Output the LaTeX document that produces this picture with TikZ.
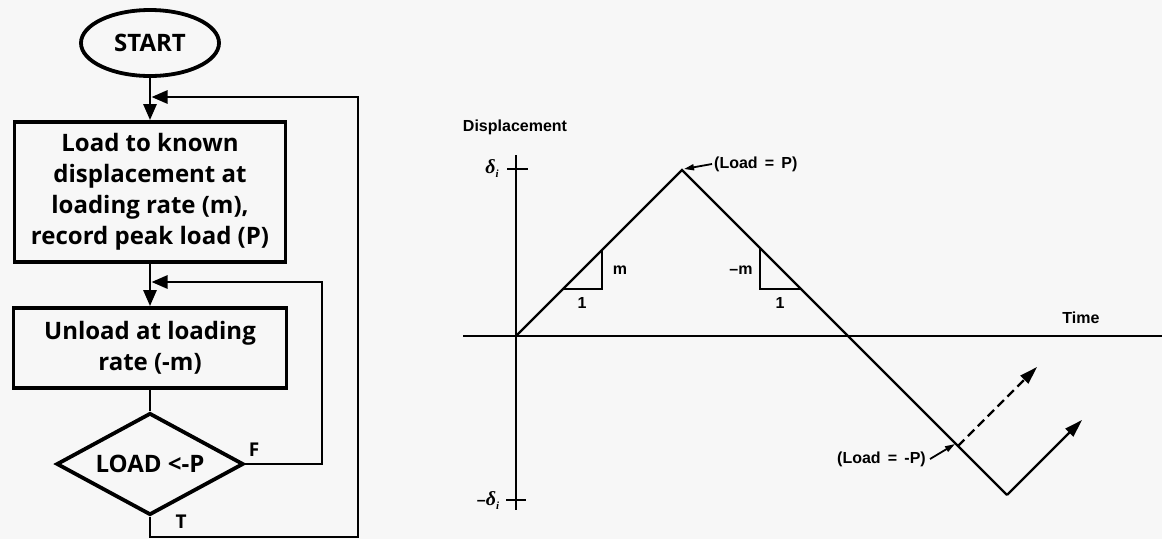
\documentclass[tikz,border=0pt]{standalone}
\usepackage{fontspec}
\setmainfont{Open Sans}
\newfontfamily\gfont{Liberation Sans}
\newfontfamily\dfont{Liberation Serif}
\newcommand\widespaces{\spaceskip=0.45em\relax}
\usetikzlibrary{arrows.meta,shapes.geometric}
\definecolor{bg}{RGB}{247,247,247}
\begin{document}
\begin{tikzpicture}[x=1pt,y=-1pt,
  flowfont/.style={font=\fontsize{24}{31}\selectfont\bfseries},
  flowbox/.style={draw,line width=3.8pt,inner sep=0pt,align=center,flowfont},
  conn/.style={line width=2.7pt},
  tip/.style={-{Triangle[length=16pt,width=13pt]}},
  curve/.style={line width=2.2pt},
  axis/.style={line width=2.8pt},
  gtip/.style={-{Triangle[length=18pt,width=11pt]}},
  ltip/.style={line width=1.8pt,-{Triangle[length=10pt,width=6pt]}},
  glabel/.style={font=\gfont\bfseries\fontsize{16}{18}\selectfont\widespaces,inner sep=0pt},
  dlabel/.style={font=\dfont\bfseries\itshape\fontsize{20}{22}\selectfont,inner sep=0pt},
  slope/.style={line width=2pt},
]
\useasboundingbox[fill=bg] (0,0) rectangle (1162,539);

% ---------- flowchart ----------
\node[ellipse,draw,line width=3.8pt,minimum width=138pt,minimum height=66pt,inner sep=0pt,flowfont] (start) at (150,43) {START};
\node[flowbox,minimum width=271pt,minimum height=140pt] (load) at (150,192)
  {Load to known\\displacement at\\loading rate (m),\\record peak load (P)};
\node[flowbox,minimum width=273pt,minimum height=80pt] (unload) at (150,348)
  {Unload at loading\\rate (-m)};
\node[diamond,draw,line width=3.8pt,minimum width=187pt,minimum height=102pt,inner sep=0pt] (dec) at (150,464) {};
\node[flowfont,inner sep=0pt] (dectext) at (dec.center) {LOAD <-P};
\node[font=\fontsize{19}{22}\selectfont\bfseries,inner sep=0pt] (flab) at (254,450) {F};
\node[font=\fontsize{19}{22}\selectfont\bfseries,inner sep=0pt] (tlab) at (181,522) {T};

\coordinate (j1) at (151.5,97);
\coordinate (j2) at (151.5,282);
\coordinate (r1) at (358,97);
\coordinate (r2) at (358,537);
\coordinate (b1) at (150,537);
\coordinate (f1) at (322,464);
\coordinate (f2) at (322,282);

\draw[conn,tip] (start.south) -- (load.north);
\draw[conn,tip] (load.south) -- (unload.north);
\draw[conn] (unload.south) -- (dec.north);
\draw[conn,tip] (dec.east) -- (f1) -- (f2) -- (j2);
\draw[conn,tip] (dec.south) -- (b1) -- (r2) -- (r1) -- (j1);

% ---------- graph ----------
\coordinate (O) at (516,336);
\coordinate (ytop) at (516,155);
\coordinate (ybot) at (516,510);
\coordinate (xl) at (463,336);
\coordinate (xr) at (1162,336);
\coordinate (t1a) at (507,169);
\coordinate (t1b) at (528,169);
\coordinate (t2a) at (506,500);
\coordinate (t2b) at (526,500);
\coordinate (peak) at (682,170);
\coordinate (cross) at (848,336);
\coordinate (vbot) at (1007,495);
\coordinate (end1) at (1082,420);
\coordinate (mP) at (958,446);
\coordinate (end2) at (1037,367);
\coordinate (s1a) at (563,289);
\coordinate (s1b) at (602,289);
\coordinate (s1c) at (602,250);
\coordinate (s2a) at (760,248);
\coordinate (s2b) at (760,289);
\coordinate (s2c) at (801,289);

\draw[axis] (ytop) -- (ybot);
\draw[axis] (xl) -- (xr);
\draw[axis] (t1a) -- (t1b);
\draw[axis] (t2a) -- (t2b);

\draw[curve] (O) -- (peak) -- (cross) -- (vbot);
\draw[curve,gtip] (vbot) -- (end1);
\draw[curve,dash pattern=on 9pt off 5pt,gtip] (mP) -- (end2);
\draw[slope] (s1a) -- (s1b) -- (s1c);
\draw[slope] (s2a) -- (s2b) -- (s2c);

\node[glabel] (disp) at (515,127) {Displacement};
\node[glabel] (time) at (1081,318) {Time};
\node[glabel,anchor=west] (lp) at (714,164) {(Load = P)};
\node[glabel,anchor=east] (lmp) at (926,459) {(Load = -P)};
\node[glabel] (m1) at (620,270) {m};
\node[glabel] (one1) at (582,303) {1};
\node[glabel] (m2) at (741,270) {–m};
\node[glabel] (one2) at (780,303) {1};
\node[dlabel] (dtop) at (492,169) {δ\raisebox{-4pt}{\fontsize{11}{12}\selectfont i}};
\node[dlabel] (dbot) at (488,501) {{\gfont\bfseries\upshape\fontsize{16}{18}\selectfont –}δ\raisebox{-4pt}{\fontsize{11}{12}\selectfont i}};

\draw[ltip] ([xshift=-2pt]lp.west) -- ([xshift=2pt,yshift=1pt]peak);
\draw[ltip] ([xshift=4pt]lmp.east) -- ([xshift=-3pt,yshift=2pt]mP);
\end{tikzpicture}
\end{document}
